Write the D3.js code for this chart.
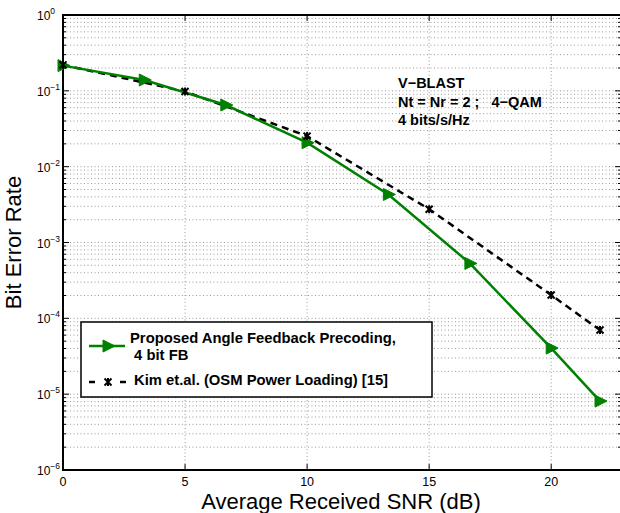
<!DOCTYPE html>
<html>
<head>
<meta charset="utf-8">
<script src="https://cdn.jsdelivr.net/npm/d3@7"></script>
<style>
  body { margin: 0; background: #fff; }
  text { font-family: "Liberation Sans", Helvetica, Arial, sans-serif; }
</style>
</head>
<body>
<svg id="chart" width="620" height="513"></svg>
<script>
// data
const snrProposed = [0, 3.33, 6.67, 10, 13.33, 16.67, 20, 22];
const berProposed = [0.215, 0.139, 0.065, 0.0207, 0.0043, 0.00053, 0.0000405, 0.0000081];
const snrKim = [0, 5, 10, 15, 20, 22];
const berKim = [0.22, 0.098, 0.0253, 0.00275, 0.000203, 0.00007];
const xTicks = [0, 5, 10, 15, 20];
const yExponents = [0, -1, -2, -3, -4, -5, -6];
const legendLabels = [["Proposed Angle Feedback Precoding,", " 4 bit FB"], ["Kim et.al. (OSM Power Loading) [15]"]];
const noteLines = ["V\u2212BLAST", "Nt = Nr = 2 ;   4\u2212QAM", "4 bits/s/Hz"];

// right edge of the axes box falls just outside the picture (cropped figure)
const margin = { top: 15, right: -1, bottom: 43, left: 63 },
    width = 620 - margin.left - margin.right,
    height = 513 - margin.top - margin.bottom;

const svg = d3.select("#chart")
    .append("g")
    .attr("transform", `translate(${margin.left}, ${margin.top})`);

const x = d3.scaleLinear().domain([0, 22.86]).range([0, width]);
const y = d3.scaleLog().domain([1e-6, 1]).range([height, 0]);

// minor values for the log grid
let minorY = [];
for (let e = -6; e < 0; e++) {
    for (let m = 2; m <= 9; m++) minorY.push(m * Math.pow(10, e));
}

// grid
const grid = svg.append("g").attr("stroke", "#555").attr("stroke-width", 0.6)
    .attr("stroke-dasharray", "1,2.5");
grid.selectAll(".hmin").data(minorY).enter().append("line")
    .attr("x1", 0).attr("x2", width)
    .attr("y1", d => y(d)).attr("y2", d => y(d));
grid.selectAll(".hmaj").data(yExponents.slice(1, -1)).enter().append("line")
    .attr("x1", 0).attr("x2", width)
    .attr("y1", d => y(Math.pow(10, d))).attr("y2", d => y(Math.pow(10, d)));
grid.selectAll(".vmaj").data(xTicks.slice(1)).enter().append("line")
    .attr("y1", 0).attr("y2", height)
    .attr("x1", d => x(d)).attr("x2", d => x(d));

// ticks inside box
const ticks = svg.append("g").attr("stroke", "#000").attr("stroke-width", 1);
xTicks.forEach(t => {
    ticks.append("line").attr("x1", x(t)).attr("x2", x(t)).attr("y1", height).attr("y2", height - 6);
    ticks.append("line").attr("x1", x(t)).attr("x2", x(t)).attr("y1", 0).attr("y2", 6);
});
yExponents.forEach(e => {
    const yy = y(Math.pow(10, e));
    ticks.append("line").attr("x1", 0).attr("x2", 6).attr("y1", yy).attr("y2", yy);
    ticks.append("line").attr("x1", width).attr("x2", width - 6).attr("y1", yy).attr("y2", yy);
});
minorY.forEach(v => {
    ticks.append("line").attr("x1", 0).attr("x2", 3).attr("y1", y(v)).attr("y2", y(v));
    ticks.append("line").attr("x1", width).attr("x2", width - 3).attr("y1", y(v)).attr("y2", y(v));
});

// box
svg.append("rect").attr("x", 0).attr("y", 0).attr("width", width).attr("height", height)
    .attr("fill", "none").attr("stroke", "#000").attr("stroke-width", 2);

// x tick labels
svg.selectAll(".xl").data(xTicks).enter().append("text")
    .attr("x", d => x(d)).attr("y", height + 16)
    .attr("text-anchor", "middle").style("font-size", "12.5px")
    .text(d => d);

// y tick labels with superscript
const yl = svg.selectAll(".yl").data(yExponents).enter().append("text")
    .attr("x", -26).attr("y", d => y(Math.pow(10, d)) + 5)
    .style("font-size", "12px");
yl.append("tspan").text("10");
yl.append("tspan").attr("dy", -6).style("font-size", "8.5px")
    .text(d => d === 0 ? "0" : "\u2212" + (-d));

// axis titles
svg.append("text").attr("x", 278).attr("y", height + 38.5)
    .attr("text-anchor", "middle").style("font-size", "22px")
    .text("Average Received SNR (dB)");
svg.append("text")
    .attr("transform", `translate(${-42}, ${height / 2}) rotate(-90)`)
    .attr("text-anchor", "middle").style("font-size", "22px")
    .text("Bit Error Rate");

// lines
const line = d3.line().x(d => x(d[0])).y(d => y(d[1]));
const green = "#008000";
const kimPts = snrKim.map((s, i) => [s, berKim[i]]);
const propPts = snrProposed.map((s, i) => [s, berProposed[i]]);

svg.append("path").datum(kimPts).attr("d", line)
    .attr("fill", "none").attr("stroke", "#000").attr("stroke-width", 2.5)
    .attr("stroke-dasharray", "7,5");
svg.append("path").datum(propPts).attr("d", line)
    .attr("fill", "none").attr("stroke", green).attr("stroke-width", 2.5);

// markers
const tri = "M-5,-6L7,0L-5,6Z";
svg.selectAll(".tri").data(propPts).enter().append("path")
    .attr("d", tri).attr("fill", green).attr("stroke", green).attr("stroke-width", 1)
    .attr("transform", d => `translate(${x(d[0])}, ${y(d[1])})`);
const star = "M-3.5,-3.5L3.5,3.5M-3.5,3.5L3.5,-3.5M0,-4L0,4";
svg.selectAll(".star").data(kimPts).enter().append("path")
    .attr("d", star).attr("fill", "none").attr("stroke", "#000").attr("stroke-width", 2)
    .attr("transform", d => `translate(${x(d[0])}, ${y(d[1])})`);

// annotation
svg.selectAll(".note").data(noteLines).enter().append("text")
    .attr("x", 335).attr("y", (d, i) => 73 + i * 18.5)
    .style("font-size", "14.5px").style("font-weight", "bold")
    .style("white-space", "pre")
    .text(d => d);

// legend
const lg = svg.append("g").attr("transform", "translate(18, 307)");
lg.append("rect").attr("width", 351).attr("height", 75)
    .attr("fill", "#fff").attr("stroke", "#000").attr("stroke-width", 1.5);
lg.append("line").attr("x1", 8).attr("x2", 44).attr("y1", 24).attr("y2", 24)
    .attr("stroke", green).attr("stroke-width", 2.5);
lg.append("path").attr("d", tri).attr("fill", green).attr("stroke", green)
    .attr("transform", "translate(27, 24)");
[[8, 14], [39, 45]].forEach(s => {
    lg.append("line").attr("x1", s[0]).attr("x2", s[1]).attr("y1", 60).attr("y2", 60)
        .attr("stroke", "#000").attr("stroke-width", 2.5);
});
lg.append("path").attr("d", star).attr("fill", "none").attr("stroke", "#000").attr("stroke-width", 2)
    .attr("transform", "translate(27, 60)");
lg.append("text").attr("x", 49).attr("y", 21).style("font-size", "14.8px").style("font-weight", "bold")
    .text(legendLabels[0][0]);
lg.append("text").attr("x", 49).attr("y", 38).style("font-size", "14.8px").style("font-weight", "bold")
    .style("white-space", "pre")
    .text(legendLabels[0][1]);
lg.append("text").attr("x", 53).attr("y", 63).style("font-size", "14.8px").style("font-weight", "bold")
    .text(legendLabels[1][0]);
</script>
</body>
</html>
